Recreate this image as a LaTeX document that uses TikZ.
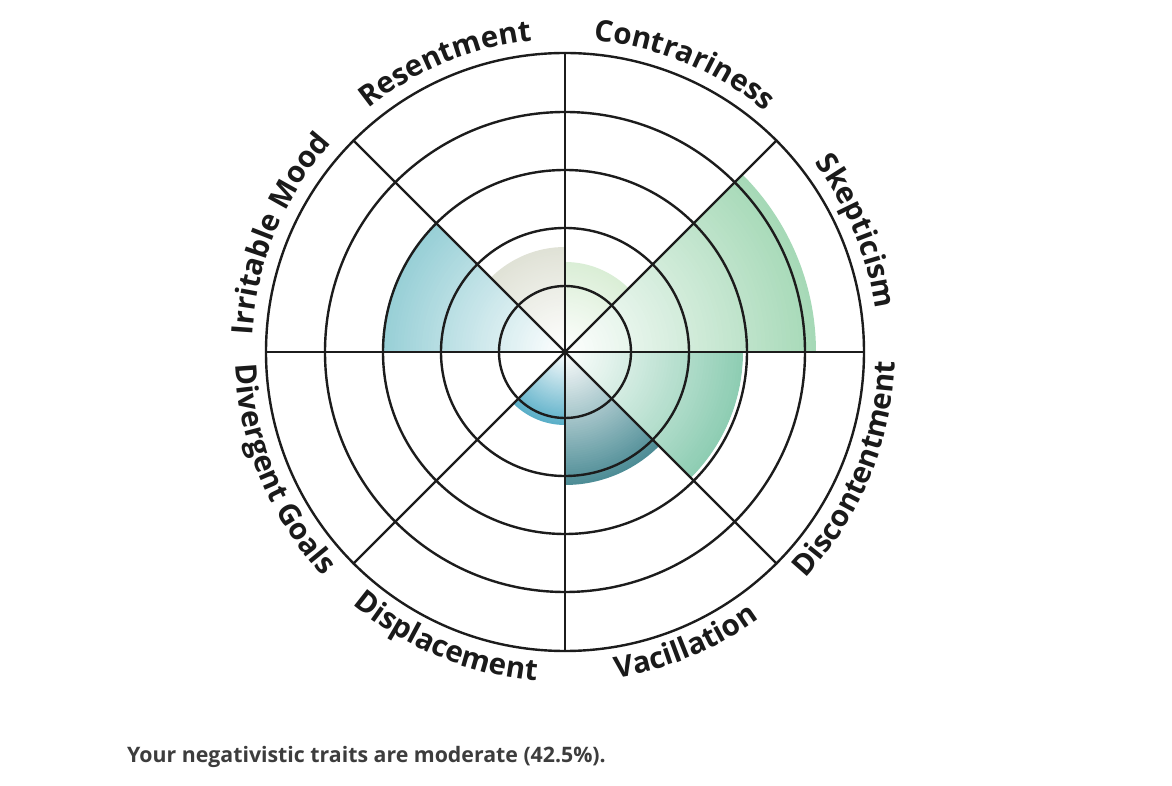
\documentclass[tikz,border=0pt]{standalone}
\usepackage{fontspec}
\setmainfont{Open Sans}
\usetikzlibrary{decorations.text}
\definecolor{gridc}{HTML}{1C1C1C}
\definecolor{labelc}{HTML}{1A1A1A}
\definecolor{sumc}{HTML}{3D3D3D}
\definecolor{irrc}{HTML}{97CFD6}
\definecolor{resc}{HTML}{E0E2D6}
\definecolor{conc}{HTML}{DAEED6}
\definecolor{skec}{HTML}{A6D9B7}
\definecolor{disc}{HTML}{8ECDB3}
\definecolor{vacc}{HTML}{4E8D96}
\definecolor{dplc}{HTML}{5AAFC8}
\newcommand\lblfont{\fontsize{29.5}{31}\selectfont\bfseries\color{labelc}}
\newcommand\mysector[4]{%
  \foreach \i in {60,59,...,1}{%
    \pgfmathsetmacro\rr{#3*\i/60}%
    \pgfmathsetmacro\pc{100*\i/60}%
    \fill[#4!\pc!white] (0,0) -- (#1:\rr) arc[start angle=#1, end angle=#2, radius=\rr] -- cycle;
  }}
\newcommand\toplabel[3]{%
  \path[decorate, decoration={text along path, text align=center, text={|\lblfont|#3}}]
    (#2:313) arc[start angle=#2, end angle=#1, radius=313];}
\newcommand\botlabel[3]{%
  \path[decorate, decoration={text along path, text align=center, text={|\lblfont|#3}}]
    (#1:330) arc[start angle=#1, end angle=#2, radius=330];}
\begin{document}
\begin{tikzpicture}[x=1pt,y=1pt,
  gridline/.style={draw=gridc, line width=2.4pt}]
\useasboundingbox (-565,-434) rectangle (607,352);
\fill[white] (-565,-434) rectangle (607,352);
% filled sectors
\mysector{135}{180}{183}{irrc}
\mysector{90}{135}{105}{resc}
\mysector{45}{90}{90}{conc}
\mysector{0}{45}{251}{skec}
\mysector{-45}{0}{178}{disc}
\mysector{-90}{-45}{133}{vacc}
\mysector{-135}{-90}{73}{dplc}
\draw[white, line width=1.2pt] (-45:179) arc[start angle=-45, end angle=0, radius=179];
% grid
\foreach \r in {66,124,182,240,299}
  \draw[gridline] (0,0) circle[radius=\r];
\foreach \a in {0,45,...,315}
  \draw[gridline, line cap=round] (0,0) -- (\a:299);
% labels
\toplabel{135}{180}{Irritable Mood}
\toplabel{90}{135}{Resentment}
\toplabel{45}{90}{Contrariness}
\toplabel{0}{45}{Skepticism}
\botlabel{-45}{0}{Discontentment}
\botlabel{-90}{-45}{Vacillation}
\botlabel{-135}{-90}{Displacement}
\botlabel{180}{225}{Divergent Goals}
% summary
\node[anchor=base west, inner sep=0pt, font=\bfseries\fontsize{21.3}{25}\selectfont, text=sumc] (summary) at (-438,-410) {Your negativistic traits are moderate (42.5\%).};
\end{tikzpicture}
\end{document}
